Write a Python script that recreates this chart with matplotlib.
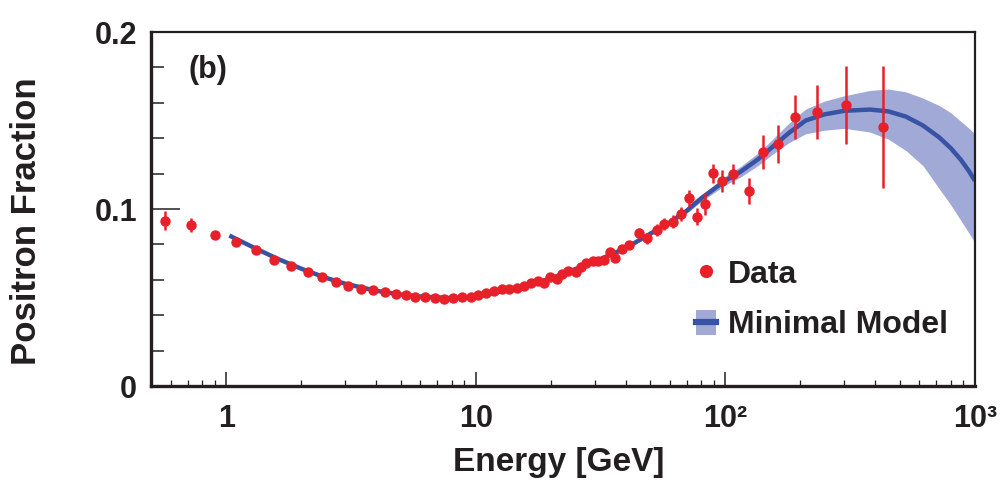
"""Positron fraction vs energy, panel (b), with minimal-model band."""
import matplotlib
matplotlib.use("Agg")
import matplotlib.pyplot as plt
from matplotlib.lines import Line2D
from matplotlib.patches import Patch
from matplotlib.legend_handler import HandlerTuple
from matplotlib.ticker import FixedLocator, NullFormatter

energy = [0.571, 0.724, 0.898, 1.097, 1.32, 1.556, 1.82, 2.12, 2.43, 2.75,
          3.09, 3.47, 3.88, 4.33, 4.79, 5.25, 5.72, 6.26, 6.84, 7.46,
          8.13, 8.85, 9.57, 10.26, 11.04, 11.86, 12.7, 13.6, 14.6, 15.6,
          16.6, 17.7, 18.8, 19.8, 21.1, 22.1, 23.5, 25.2, 26.4, 27.6,
          29.4, 31.0, 32.7, 34.5, 36.1, 38.7, 41.2, 45.0, 48.8, 53.1,
          56.9, 61.5, 66.4, 71.7, 77.0, 82.9, 89.5, 96.7, 107.6, 124.0,
          142.0, 162.6, 189.5, 233.0, 305.0, 427.0]
fraction = [0.0934, 0.0911, 0.0853, 0.0812, 0.0767, 0.0714, 0.0676, 0.0642, 0.0614, 0.0586,
            0.0565, 0.0548, 0.0541, 0.0529, 0.0520, 0.0514, 0.0505, 0.0503, 0.0497, 0.0493,
            0.0497, 0.0501, 0.0501, 0.0512, 0.0525, 0.0538, 0.0546, 0.0550, 0.0555, 0.0565,
            0.0580, 0.0595, 0.0584, 0.0618, 0.0603, 0.0631, 0.0651, 0.0646, 0.0674, 0.0697,
            0.0708, 0.0708, 0.0712, 0.0759, 0.0721, 0.0772, 0.0797, 0.0866, 0.0834, 0.0881,
            0.0915, 0.0928, 0.0970, 0.1060, 0.0957, 0.1028, 0.1201, 0.1158, 0.1198, 0.1102,
            0.1324, 0.1365, 0.1518, 0.1546, 0.1588, 0.1465]
frac_err = [0.0054, 0.0040, 0.0020, 0.0015, 0.0012, 0.0010, 0.0010, 0.0010, 0.0010, 0.0010,
            0.0010, 0.0010, 0.0010, 0.0010, 0.0010, 0.0010, 0.0010, 0.0010, 0.0010, 0.0010,
            0.0010, 0.0010, 0.0010, 0.0010, 0.0010, 0.0010, 0.0010, 0.0012, 0.0012, 0.0012,
            0.0012, 0.0012, 0.0012, 0.0014, 0.0014, 0.0014, 0.0015, 0.0015, 0.0016, 0.0016,
            0.0017, 0.0018, 0.0018, 0.0020, 0.0020, 0.0022, 0.0024, 0.0028, 0.0030, 0.0032,
            0.0034, 0.0036, 0.0040, 0.0047, 0.0050, 0.0060, 0.0055, 0.0060, 0.0055, 0.0073,
            0.0096, 0.0107, 0.0124, 0.0153, 0.0220, 0.0345]

# --- minimal model curve and its uncertainty band ---
model_e = [1.03, 1.3, 1.6, 2.0, 2.5, 3.0, 4.0, 5.0, 6.0, 8.0,
           10.0, 12.0, 15.0, 20.0, 30.0, 40.0, 50.0, 60.0, 70.0, 80.0,
           100.0, 115.0, 135.0, 155.0, 180.0, 210.0, 250.0, 300.0, 380.0, 450.0,
           530.0, 620.0, 720.0, 800.0, 880.0, 950.0, 1000.0]
model_y = [0.0850, 0.0780, 0.0720, 0.0663, 0.0612, 0.0578, 0.0538, 0.0517, 0.0506, 0.0497,
           0.0503, 0.0528, 0.0556, 0.0608, 0.0703, 0.0780, 0.0860, 0.0925, 0.0990, 0.1060,
           0.1160, 0.1210, 0.1280, 0.1352, 0.1430, 0.1500, 0.1535, 0.1555, 0.1562, 0.1552,
           0.1522, 0.1472, 0.1405, 0.1345, 0.1278, 0.1212, 0.1160]
model_lo = [0.0845, 0.0775, 0.0715, 0.0658, 0.0607, 0.0573, 0.0533, 0.0512, 0.0501, 0.0492,
            0.0498, 0.0523, 0.0551, 0.0602, 0.0696, 0.0772, 0.0850, 0.0913, 0.0975, 0.1042,
            0.1135, 0.1180, 0.1245, 0.1310, 0.1375, 0.1425, 0.1445, 0.1456, 0.1435, 0.1395,
            0.1330, 0.1245, 0.1115, 0.1025, 0.0935, 0.0862, 0.0812]
model_hi = [0.0855, 0.0785, 0.0725, 0.0668, 0.0617, 0.0583, 0.0543, 0.0522, 0.0511, 0.0502,
            0.0508, 0.0533, 0.0561, 0.0614, 0.0710, 0.0788, 0.0870, 0.0937, 0.1005, 0.1078,
            0.1185, 0.1240, 0.1315, 0.1395, 0.1485, 0.1565, 0.1610, 0.1640, 0.1670, 0.1678,
            0.1662, 0.1627, 0.1585, 0.1545, 0.1495, 0.1455, 0.1425]

x_ticks = [1, 10, 100, 1000]
x_ticklabels = ["1", "10", "10\u00b2", "10\u00b3"]
y_ticks = [0.0, 0.1, 0.2]
y_ticklabels = ["0", "0.1", "0.2"]

RED = "#e8202a"
BLUE = "#3853a4"
BAND = "#a1a9d6"
INK = "#231f20"

FONT = ["Liberation Sans Narrow", "Liberation Sans", "DejaVu Sans"]


def main():
    plt.rcParams["font.family"] = FONT
    plt.rcParams["font.weight"] = "bold"

    fig = plt.figure(figsize=(10.07, 4.93), dpi=100)
    ax = fig.add_axes([0.150, 0.217, 0.818, 0.718])

    ax.fill_between(model_e, model_lo, model_hi, color=BAND, lw=0, zorder=1)
    ax.plot(model_e, model_y, color=BLUE, lw=3.2, zorder=2,
            solid_capstyle="butt", solid_joinstyle="round")
    ax.errorbar(energy, fraction, yerr=frac_err, fmt="o", color=RED, ms=7.5,
                mew=0, elinewidth=1.8, capsize=0, zorder=3)

    ax.set_xscale("log")
    ax.set_xlim(0.5, 1000)
    ax.set_ylim(0, 0.2)

    # ticks: inward, only on left/bottom
    ax.xaxis.set_major_locator(FixedLocator(x_ticks))
    ax.set_xticklabels(x_ticklabels)
    minor_x = [m * 10 ** d for d in range(-1, 3) for m in range(2, 10)]
    ax.xaxis.set_minor_locator(FixedLocator([v for v in minor_x if v > 0.5]))
    ax.xaxis.set_minor_formatter(NullFormatter())
    ax.yaxis.set_major_locator(FixedLocator(y_ticks))
    ax.set_yticklabels(y_ticklabels)
    ax.yaxis.set_minor_locator(FixedLocator([0.02, 0.04, 0.06, 0.08,
                                             0.12, 0.14, 0.16, 0.18]))
    ax.tick_params(axis="x", which="major", direction="in", length=10, width=1.1,
                   color=INK, pad=13, labelsize=22, labelcolor=INK)
    ax.tick_params(axis="x", which="minor", direction="in", length=4.5, width=0.9,
                   color=INK)
    ax.tick_params(axis="y", which="major", direction="in", length=21, width=1.1,
                   color=INK, pad=10, labelsize=22, labelcolor=INK)
    ax.tick_params(axis="y", which="minor", direction="in", length=9, width=1.1,
                   color=INK)

    for side in ["left", "bottom"]:
        ax.spines[side].set_linewidth(2.4)
        ax.spines[side].set_color(INK)
    for side in ["top", "right"]:
        ax.spines[side].set_linewidth(1.6)
        ax.spines[side].set_color(INK)

    ax.set_xlabel("Energy [GeV]", fontsize=24, fontweight="bold", color=INK)
    ax.xaxis.set_label_coords(0.555, 0.094, transform=fig.transFigure)
    ax.xaxis.label.set_va("top")
    ax.set_ylabel("Positron Fraction", fontsize=25, fontweight="bold", color=INK)
    ax.yaxis.set_label_coords(0.043, 0.551, transform=fig.transFigure)

    ax.text(0.045, 0.935, "(b)", transform=ax.transAxes, fontsize=22,
            fontweight="bold", color=INK, va="top", ha="left")

    data_h = Line2D([], [], marker="o", ls="none", color=RED, ms=9.5, mew=0)
    model_h = (Patch(facecolor=BAND, edgecolor="none"),
               Line2D([], [], color=BLUE, lw=4.5))
    ax.legend([data_h, model_h], ["Data", "Minimal Model"],
              handler_map={tuple: HandlerTuple(ndivide=1, pad=0)},
              loc="upper left", bbox_to_anchor=(0.635, 0.422), frameon=False,
              prop={"family": FONT, "weight": "bold", "size": 23},
              handlelength=0.6, handleheight=0.85, handletextpad=0.38,
              labelspacing=0.62, borderpad=0.2, labelcolor=INK)

    fig.savefig("out.png", dpi=100)
    plt.close(fig)


if __name__ == "__main__":
    main()
